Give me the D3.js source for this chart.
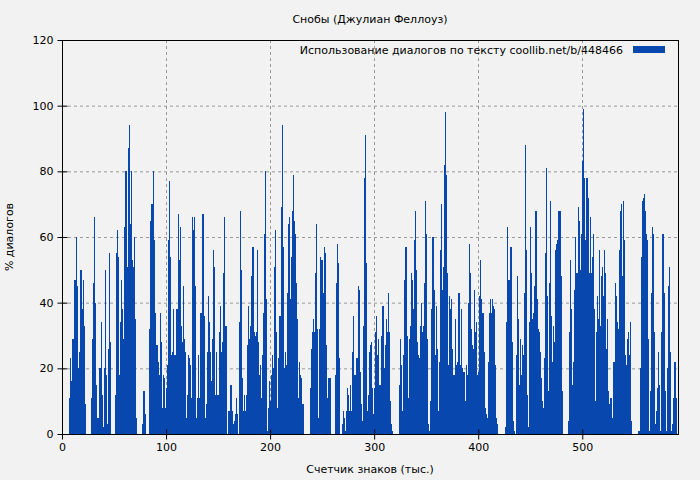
<!DOCTYPE html>
<html><head><meta charset="utf-8">
<script src="https://cdn.jsdelivr.net/npm/d3@7"></script>
<style>body{margin:0;background:#f2f2f2}svg{display:block}text{font-family:"DejaVu Sans",sans-serif;font-size:11px;fill:#000}</style>
</head><body><svg id="c" width="700" height="480"></svg>
<script>
const title = "Снобы (Джулиан Феллоуз)";
const xLabel = "Счетчик знаков (тыс.)";
const yLabel = "% диалогов";
const legendLabel = "Использование диалогов по тексту  coollib.net/b/448466";
const xTicks = [0,100,200,300,400,500];
const yTicks = [0,20,40,60,80,100,120];
const segA = [0,0,0,0,0,0,0, 11,23,16,29,21,47,60,45,20,25,50,50,38,47,33,9, 0,0,0,0,0,
 11,29,46,66,40,15,5, 1,20,34,12,2,20,50,18,3,26,55,28, 0,0,0,0,
 12,55,62,54,18,34,47,38,29,63,80,51,87,94,64,80,53,51,60,35,5, 0,0,0,0,0, 3,13,13,6, 0,0,0,
 32,65,70,80,59,37,27,27,22,18,37,28,8,18,17,8,14,21,59,77,54,24,25,38,24,8,38,67,53,63,33,28,45,29,25,5,12,24,23,21,11,66,62,66,45,5,11,24,11,37,37,67,36,5,9,25,42,34,25,16,29,56,51,12,25,12,12,31];
const segB = [39,25,28,49,66,33,0,0,7,15,15,7,3,4,6,11,6,0,
 34,68,50,17,7,12,7,12,27,39,29,33,48,57,31,30,31,56,28,18,21,11,24,37,61,80,41,1,8,16,10,18,24,20,51,62,31,8,23,36,69,94,57,20,25,21,43,64,66,41,54,68,79,65,61,46,35,11,22,18,17,9,
 0,0,0,0,0,0, 14,26,31,35,31,49,64,32,5,32,54,53,53,43,57,55,27,11,17,17, 0,0,0,0, 18,46,58,52,23, 0,0,
 3,7,5,1,7,14,12,7,15,7,25,36,18,1,23,45,44,19,9,4,33,78,91,52,7,12,25,27,28,14,6,14];
const segC = [31,36,24,29,15,13,30,39,20,27,35,31,43,31,10,3,1, 0,0,0,0,0,0,
 15,29,21,7,24,47,57,30,11,29,33,49,47,38,59,68,50,28,24,23,33,40,31,33,46,71,61,29,3,1,10,38,60,44,24,39,26,7,22,56,70,44,51,82,98,79,49,21,42,38,41,26,18,18,35,21,22,43,21,38,20,19,19,10,21,18,40,58,49,32,27,26,44,31,34,18,19,42,53,41,37,25,8,6,5,22,37,41,37,41,39,38,21,5,3,
 0,0,0,0,0,0,0, 2,34,63,47,36,57,28,4,1, 0, 24,48,35,15,29,18,27,24,43,88,56,12];
const segD = [2,34,63,49,35,37,45,68,41,32,31,25,17,10,8,23,55,81,42,13,46,71,36,22,33,28,56,58,59,68,68,48,13, 0,0,0,0,0,
 4,31,53,38,15,22,44,60,49,49,69,65,50,61,83,99,78,59,78,72,49,66,49,54,61,38,10,31,42,35,56,33,48,51,42,56,49,26,35,13,9,11,5,5,22,46,42,34,32,56,68,70,48,71,59,24,21,29,31,24,34,4,
 0,0,0,0,0,0, 1,20,54,71,72,73,68,61,59,29, 1,13,43,63,61,31,3,7,14,25,15,1,31,61,43,13,1,20,45,51,25, 1,3,11,22,22,11];
const values = segA.concat(segB, segC, segD);

const svg = d3.select("#c");
const m = {l:62, r:678, t:40, b:434};
const x = d3.scaleLinear().domain([0,592]).range([m.l,m.r]);
const y = d3.scaleLinear().domain([0,120]).range([m.b,m.t]);
const color = "#0747ae";

svg.append("g").selectAll("line.gy").data(yTicks.slice(1,-1)).join("line")
 .attr("x1",m.l).attr("x2",m.r).attr("y1",d=>y(d)+.5).attr("y2",d=>y(d)+.5)
 .attr("stroke","#999").attr("stroke-dasharray","3,3");
svg.append("g").selectAll("line.gx").data(xTicks.slice(1)).join("line")
 .attr("y1",m.t).attr("y2",m.b).attr("x1",d=>Math.round(x(d))+.5).attr("x2",d=>Math.round(x(d))+.5)
 .attr("stroke","#999").attr("stroke-dasharray","3,3");

svg.append("g").selectAll("rect").data(values).join("rect")
 .attr("x",(d,i)=>x(i)).attr("width",x(1)-x(0)+0.1)
 .attr("y",d=>y(d)).attr("height",d=>y(0)-y(d)).attr("fill",color).attr("shape-rendering","crispEdges");

svg.append("rect").attr("x",m.l+.5).attr("y",m.t+.5).attr("width",m.r-m.l).attr("height",m.b-m.t)
 .attr("fill","none").attr("stroke","#000");

const xa = svg.append("g").attr("transform",`translate(0,${m.b+.5})`)
 .call(d3.axisBottom(x).tickValues(xTicks).tickSize(5).tickPadding(4).tickFormat(d3.format("d")));
const ya = svg.append("g").attr("transform",`translate(${m.l+.5},0)`)
 .call(d3.axisLeft(y).tickValues(yTicks).tickSize(5).tickPadding(4));
[xa,ya].forEach(a=>{a.select(".domain").remove();a.selectAll("text").style("font-family","DejaVu Sans").style("font-size","11px");a.selectAll("line").attr("stroke","#000");});
xa.selectAll(".tick line").attr("y1",-5).attr("y2",5);
ya.selectAll(".tick line").attr("x1",5).attr("x2",-5);

svg.append("text").attr("x",370).attr("y",23).attr("text-anchor","middle").text(title);
svg.append("text").attr("x",370).attr("y",473).attr("text-anchor","middle").text(xLabel);
svg.append("text").attr("transform","translate(13,237) rotate(-90)").attr("text-anchor","middle").text(yLabel);
svg.append("text").attr("x",623).attr("y",54).attr("text-anchor","end").text(legendLabel);
svg.append("rect").attr("x",633).attr("y",46).attr("width",32).attr("height",7).attr("fill",color);
</script></body></html>
